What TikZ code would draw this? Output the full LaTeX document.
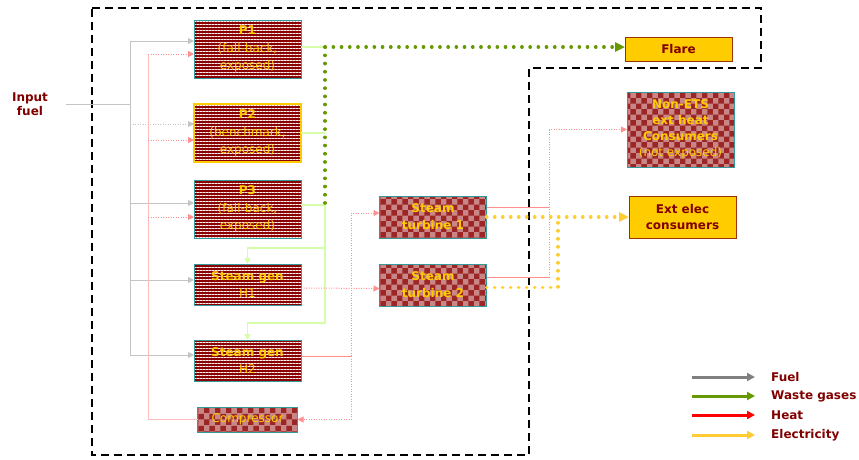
\documentclass[tikz,border=0pt]{standalone}
\usepackage{fontspec}
\setmainfont{DejaVu Sans}
\usetikzlibrary{arrows.meta, positioning, patterns, patterns.meta}

\definecolor{boxred}{HTML}{8B0000}
\definecolor{boxteal}{HTML}{339999}
\definecolor{txtgold}{HTML}{FFCC00}
\definecolor{txtred}{HTML}{800000}
\definecolor{edgebrown}{HTML}{993300}
\definecolor{fuelgray}{HTML}{C4C4C4}
\definecolor{leggray}{HTML}{808080}
\definecolor{heatpink}{HTML}{FF9090}
\definecolor{wastelight}{HTML}{D4FFA8}
\definecolor{wastegreen}{HTML}{669900}
\definecolor{elecgold}{HTML}{FFCC33}
\definecolor{checkbase}{HTML}{C98686}

\begin{document}
\begin{tikzpicture}[x=1pt, y=-1pt,
      every node/.style={font=\fontsize{12}{17.5}\selectfont},
      unit/.style={draw=boxteal, line width=1pt, minimum width=107pt,
                   minimum height=58pt, inner sep=0pt, outer sep=0pt,
                   align=center, text=txtgold,
                   preaction={fill=boxred},
                   pattern={Lines[distance=3pt, line width=0.9pt]},
                   pattern color=white!75!pink},
      gen/.style={unit, minimum height=41pt},
      chk/.style={draw=boxteal, line width=1pt, minimum width=107pt,
                  minimum height=42pt, inner sep=0pt, outer sep=0pt,
                  align=center, text=txtgold,
                  preaction={fill=checkbase}, pattern=checkerboard,
                  pattern color=boxred!85},
      ext/.style={draw=edgebrown, fill=txtgold, line width=1pt, minimum width=107pt,
                  minimum height=24pt, inner sep=0pt, outer sep=0pt,
                  align=center, text=txtred,
                  font=\fontsize{12}{16}\selectfont\bfseries},
      boundary/.style={draw=black, line width=2.4pt, dash pattern=on 8pt off 5pt},
      fuelline/.style={draw=fuelgray, line width=1pt},
      heatline/.style={draw=heatpink, line width=1pt},
      thindots/.style={dash pattern=on 1pt off 1.5pt},
      wasteline/.style={draw=wastelight, line width=1.2pt},
      wastedots/.style={draw=wastegreen, line width=3.4pt, line cap=round,
                        dash pattern=on 0.3pt off 7.9pt},
      elecline/.style={draw=elecgold, line width=3.4pt, line cap=round,
                       dash pattern=on 0.3pt off 7.7pt},
      tip/.style={-{Triangle[length=6pt, width=6pt]}},
      bigtip/.style={-{Triangle[length=10pt, width=9pt]}},
      legarrow/.style={line width=3pt, -{Triangle[length=8pt, width=8pt]}}]
    \useasboundingbox (0,0) rectangle (859,459);

    % system boundary
    \draw[boundary] (92,8) -- (761,8) -- (761,68) -- (529,68) -- (529,455)
                    -- (92,455) -- cycle;

    % installations
    \node[unit] (p1) at (247.5,49) {\textbf{P1}\\(fall-back,\\exposed)};
    \node[unit, draw=txtgold, line width=1.5pt, below=26pt of p1] (p2)
          {\textbf{P2}\\(benchmark,\\exposed)};
    \node[unit, below=18pt of p2] (p3) {\textbf{P3}\\(fall-back,\\exposed)};
    \node[gen, below=26pt of p3] (h1) {\textbf{Steam gen}\\H1};
    \node[gen, below=35pt of h1] (h2) {\textbf{Steam gen}\\H2};
    \node[chk, minimum width=100pt, minimum height=25pt, below=26pt of h2] (comp)
          {Compressor};
    \node[chk, font=\fontsize{12}{17}\selectfont\bfseries] (st1) at (433,217)
          {Steam\\turbine 1};
    \node[chk, font=\fontsize{12}{17}\selectfont\bfseries, below=26pt of st1] (st2)
          {Steam\\turbine 2};

    % consumers
    \node[ext] (flare) at (678.5,49) {Flare};
    \node[chk, minimum height=75pt, font=\fontsize{12}{16}\selectfont] (nonets)
          at (680.5,129.5)
          {\textbf{Non-ETS}\\\textbf{ext heat}\\\textbf{Consumers}\\(not exposed)};
    \node[ext, minimum height=42pt] (extel) at (682.5,217) {Ext elec\\consumers};

    \node[text=txtred, align=center, font=\fontsize{12}{14}\selectfont\bfseries]
          (infuel) at (30,104) {Input\\fuel};

    % fuel
    \coordinate (fj) at (130,104);
    \coordinate (p1f) at ([yshift=8pt]p1.west);
    \coordinate (p2f) at ([yshift=9pt]p2.west);
    \coordinate (p3f) at ([yshift=6pt]p3.west);
    \coordinate (h1f) at ([yshift=4.5pt]h1.west);
    \coordinate (h2f) at ([yshift=5.5pt]h2.west);
    \draw[fuelline, shorten <=15pt] (infuel.east) -- (fj);
    \draw[fuelline, tip] (fj) |- (p1f);
    \draw[fuelline, tip] (fj) |- (p3f);
    \draw[fuelline, tip] (fj) |- (h1f);
    \draw[fuelline, tip] (fj) |- (h2f);
    \draw[fuelline, thindots, tip] (fj |- p2f) -- (p2f);

    % waste gases
    \coordinate (wj) at (325,47);
    \coordinate (p3w) at ([yshift=4pt]p3.east);
    \coordinate (h1w) at ([yshift=16pt]h1.north);
    \coordinate (h2w) at ([yshift=17pt]h2.north);
    \draw[wasteline] ([yshift=2pt]p1.east) -- (wj);
    \draw[wasteline] (p2.east) -- (wj |- p2.east);
    \draw[wasteline] (p3w) -- (wj |- p3w);
    \draw[wasteline, tip] (wj |- p3w) |- (h1w) -- (h1.north);
    \draw[wasteline, tip] (wj |- p3w) |- (h2w) -- (h2.north);
    \draw[wastedots] (wj) -- (wj |- p3w);
    \draw[wastedots, bigtip] (wj) -- ([yshift=2pt]flare.west);

    % heat
    \coordinate (hj) at (148,419.5);
    \coordinate (p1h) at ([yshift=-5pt]p1.west);
    \coordinate (p2h) at ([yshift=-7pt]p2.west);
    \coordinate (p3h) at ([yshift=-8pt]p3.west);
    \draw[heatline, draw=heatpink!60] (comp.west) -- (hj |- comp.west) -- (hj |- p1h);
    \draw[heatline, thindots, tip] (hj |- p1h) -- (p1h);
    \draw[heatline, thindots, tip] (hj |- p2h) -- (p2h);
    \draw[heatline, thindots, tip] (hj |- p3h) -- (p3h);
    \draw[heatline, thindots, tip] ([yshift=-3.5pt]h1.east) -- ([yshift=-3.5pt]st2.west);
    \coordinate (hk) at (351,356);
    \coordinate (h2h) at ([yshift=4.5pt]h2.east);
    \coordinate (st1h) at ([yshift=4pt]st1.west);
    \draw[heatline] (h2h) -- (hk |- h2h);
    \draw[heatline, thindots, tip] (hk |- h2h) |- (st1h);
    \draw[heatline, thindots, tip] (hk |- h2h) |- (comp.east);
    \coordinate (tj) at (549,277);
    \coordinate (st1t) at ([yshift=10pt]st1.east);
    \coordinate (st2t) at ([yshift=7.5pt]st2.east);
    \draw[heatline] (st1t) -- (tj |- st1t);
    \draw[heatline] (st2t) -- (tj |- st2t);
    \draw[heatline, thindots, tip] (tj |- st2t) |- (nonets.west);

    % electricity
    \coordinate (ej) at (558,287);
    \coordinate (st2e) at ([yshift=-2.5pt]st2.east);
    \draw[elecline] (st2e) -- (ej |- st2e) -- (ej |- extel.west);
    \draw[elecline, bigtip] (st1.east) -- (extel.west);

    % legend
    \foreach \y/\c/\t in {377/leggray/Fuel, 396/wastegreen/Waste gases,
                          415/red/Heat, 435/elecgold/Electricity} {
      \node[anchor=west, text=txtred, inner sep=0pt,
            font=\fontsize{12}{14}\selectfont\bfseries] (leg\y) at (771,\y) {\t};
      \coordinate (legs\y) at (692,\y);
      \draw[legarrow, draw=\c, fill=\c] (legs\y) -- ([xshift=-16pt]leg\y.west);
    }
  \end{tikzpicture}
\end{document}
